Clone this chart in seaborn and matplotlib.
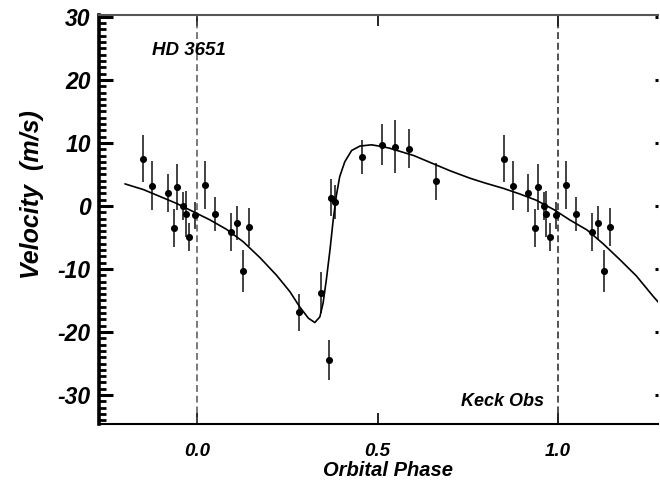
import numpy as np
import pandas as pd
import seaborn as sns
import matplotlib.pyplot as plt
from matplotlib.ticker import MultipleLocator

# observed radial velocities (phase, m/s, error)
phase = [-0.151, -0.126, -0.082, -0.064, -0.056, -0.038, -0.032, -0.022, -0.005, 0.021,
         0.049, 0.094, 0.111, 0.127, 0.145, 0.283, 0.342, 0.364, 0.370, 0.382,
         0.458, 0.513, 0.547, 0.586, 0.663]
velocity = [7.5, 3.2, 2.1, -3.5, 3.0, 0.0, -1.3, -4.9, -1.5, 3.3,
            -1.3, -4.1, -2.7, -10.3, -3.3, -16.9, -13.8, -24.4, 1.3, 0.6,
            7.7, 9.7, 9.4, 9.1, 3.9]
error = [3.75, 3.9, 3.0, 3.0, 3.6, 2.25, 3.6, 2.2, 2.2, 3.8,
         2.7, 3.0, 2.75, 3.3, 3.0, 3.0, 3.25, 3.2, 2.9, 2.7,
         2.7, 3.25, 4.2, 3.1, 2.9]

# orbit fit curve
fit_phase = [-0.20, -0.149, -0.103, -0.057, -0.011, 0.035, 0.081, 0.128, 0.174, 0.22,
             0.257, 0.284, 0.308, 0.326, 0.340, 0.349, 0.358, 0.368, 0.377, 0.386,
             0.395, 0.409, 0.428, 0.451, 0.483, 0.515, 0.534, 0.60, 0.65, 0.70,
             0.756, 0.80, 0.848, 0.894, 0.940, 0.989, 1.032, 1.08, 1.125, 1.171,
             1.217, 1.263, 1.28]
fit_vel = [3.5, 2.6, 1.5, 0.4, -0.9, -2.2, -3.7, -5.7, -8.2, -11.0,
           -13.6, -16.0, -17.8, -18.5, -17.6, -15.4, -11.7, -7.0, -2.2, 1.75,
           4.65, 7.0, 8.8, 9.5, 9.7, 9.4, 9.15, 8.0, 6.8, 5.6,
           4.4, 3.6, 2.8, 1.9, 0.9, -0.6, -2.2, -3.8, -6.0, -8.5,
           -11.1, -14.3, -15.4]

xmin, xmax = -0.272, 1.277
ymin, ymax = -34.6, 30.3

sns.set_theme(style='white')
plt.rcParams['font.family'] = ['Liberation Sans', 'DejaVu Sans']
plt.rcParams['font.weight'] = 'bold'
plt.rcParams['font.style'] = 'italic'
plt.rcParams['axes.unicode_minus'] = False

obs = pd.DataFrame({'phase': phase, 'velocity': velocity, 'error': error})
# repeat the observations one period later where they still fall in the window
shifted = obs.assign(phase=obs['phase'] + 1)
obs_all = pd.concat([obs, shifted[shifted['phase'] <= xmax]], ignore_index=True)
fit = pd.DataFrame({'phase': fit_phase, 'velocity': fit_vel})

fig = plt.figure(figsize=(6.6, 4.8), dpi=100)
ax = fig.add_axes([99 / 660, 1 - 424 / 480, 559 / 660, 409 / 480])

ax.axvline(0, color='#555555', lw=1.1, ls=(0, (4.5, 2.5)), zorder=1)
ax.axvline(1, color='#222222', lw=1.1, ls=(0, (4.5, 2.5)), zorder=1)

sns.lineplot(data=fit, x='phase', y='velocity', color='black', lw=1.2, sort=False, ax=ax, zorder=3)
ax.errorbar(obs_all['phase'], obs_all['velocity'], yerr=obs_all['error'], fmt='none',
            ecolor='#222222', elinewidth=1.2, capsize=0, zorder=2)
sns.scatterplot(data=obs_all, x='phase', y='velocity', color='black', s=26, edgecolor='black',
                linewidth=0, ax=ax, zorder=4)

ax.set_xlim(xmin, xmax)
ax.set_ylim(ymin, ymax)
ax.set_xticks([0.0, 0.5, 1.0])
ax.set_xticklabels(['0.0', '0.5', '1.0'])
ax.set_yticks([-30, -20, -10, 0, 10, 20, 30])
ax.set_yticklabels(['-30', '-20', '-10', '0', '10', '20', '30'])
ax.yaxis.set_minor_locator(MultipleLocator(1))

ax.spines['right'].set_visible(False)
ax.spines['left'].set_linewidth(2.6)
ax.spines['left'].set_color('black')
ax.spines['bottom'].set_linewidth(1.5)
ax.spines['bottom'].set_color('black')
ax.spines['top'].set_linewidth(1.5)
ax.spines['top'].set_color('#555555')

ax.tick_params(axis='x', which='major', direction='in', length=8, width=1.2, color='black',
               top=True, bottom=True, labelsize=13.5, pad=14)
ax.tick_params(axis='y', which='major', direction='in', length=10, width=2.2, color='black',
               left=True, right=True, labelsize=16.5, pad=6)
ax.tick_params(axis='y', which='minor', direction='in', length=5, width=2.0, color='black',
               left=True, right=False)
for t in ax.yaxis.get_major_ticks():
    t.tick2line.set_markersize(2)
for lab in ax.get_xticklabels() + ax.get_yticklabels():
    lab.set_fontstyle('italic')
    lab.set_fontweight('bold')
    lab.set_color('black')

ax.set_xlabel('Orbital Phase', fontsize=14.5, fontweight='bold', fontstyle='italic', color='black')
ax.xaxis.set_label_coords((388 - 99) / 559, -0.09)
ax.set_ylabel('Velocity  (m/s)', fontsize=18, fontweight='bold', fontstyle='italic', color='black')
ax.yaxis.set_label_coords(-0.098, 0.56)

ax.text(-0.125, 24, 'HD 3651', fontsize=13.5, fontweight='bold', fontstyle='italic',
        ha='left', va='baseline', color='black')
ax.text(0.96, -31.7, 'Keck Obs', fontsize=13, fontweight='bold', fontstyle='italic',
        ha='right', va='baseline', color='black')

fig.savefig('out.png', dpi=100)
